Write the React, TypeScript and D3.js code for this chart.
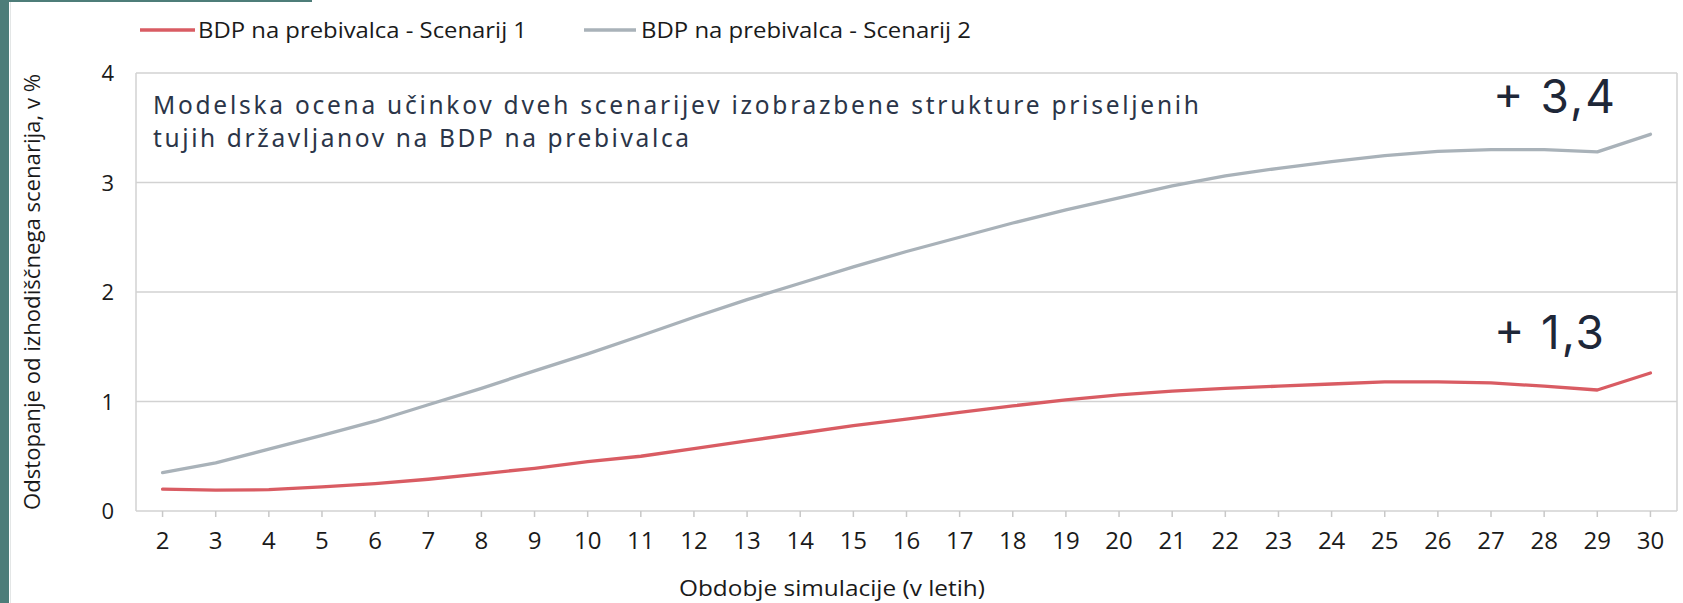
import React from "react";
import * as d3 from "d3";

const years = [2,3,4,5,6,7,8,9,10,11,12,13,14,15,16,17,18,19,20,21,22,23,24,25,26,27,28,29,30];
const scenario1 = [0.20,0.19,0.195,0.22,0.25,0.29,0.34,0.39,0.45,0.50,0.57,0.64,0.71,0.78,0.84,0.90,0.96,1.015,1.06,1.095,1.12,1.14,1.16,1.18,1.18,1.17,1.14,1.105,1.26];
const scenario2 = [0.35,0.44,0.565,0.69,0.82,0.97,1.12,1.28,1.435,1.60,1.77,1.93,2.08,2.23,2.37,2.50,2.63,2.75,2.86,2.97,3.06,3.13,3.19,3.245,3.285,3.30,3.30,3.28,3.44];
const yTicks = [0,1,2,3,4];
const seriesNames = ["BDP na prebivalca - Scenarij 1", "BDP na prebivalca - Scenarij 2"];
const seriesColors = ["#d95c63", "#a9b2b9"];
const annotationLines = [
  "Modelska ocena učinkov dveh scenarijev izobrazbene strukture priseljenih",
  "tujih državljanov na BDP na prebivalca",
];
const endLabels = ["+ 1,3", "+ 3,4"];

const W = 1683, H = 603;
const M = { left: 136, right: 1677, top: 73, bottom: 511 };
const FONT = "'Open Sans', 'Noto Sans', sans-serif";

export default function App() {
  const x = d3.scaleBand<number>().domain(years).range([M.left, M.right]).padding(0);
  const cx = (v: number) => (x(v) as number) + x.bandwidth() / 2;
  const y = d3.scaleLinear().domain([0, 4]).range([M.bottom, M.top]);
  const line = d3.line<number>().x((_, i) => cx(years[i])).y((d) => y(d)).curve(d3.curveLinear);
  const series = [scenario1, scenario2];

  return (
    <svg width={W} height={H} style={{ position: "absolute", left: 0, top: 0, background: "#fff" }}>
      <rect x={0} y={0} width={9} height={H} fill="#4d7d79" />
      <rect x={10} y={0} width={1} height={H} fill="#e3e6e6" />
      <rect x={0} y={0} width={312} height={2} fill="#4d7d79" />

      {/* gridlines */}
      {yTicks.map((t) => (
        <line key={t} x1={M.left} x2={M.right} y1={y(t)} y2={y(t)} stroke="#d2d2d2" strokeWidth={1.5} />
      ))}
      <line x1={M.left} x2={M.left} y1={M.top} y2={M.bottom} stroke="#d2d2d2" strokeWidth={1.5} />
      <line x1={M.right} x2={M.right} y1={M.top} y2={M.bottom} stroke="#d2d2d2" strokeWidth={1.5} />

      {/* x ticks */}
      {years.map((v) => (
        <g key={v}>
          <line x1={cx(v)} x2={cx(v)} y1={M.bottom} y2={M.bottom + 6} stroke="#c8c8c8" strokeWidth={1.5} />
          <text x={cx(v)} y={549} textAnchor="middle" fontFamily={FONT} fontSize={24} fill="#1a1a1a">{v}</text>
        </g>
      ))}
      {/* y ticks */}
      {yTicks.map((t) => (
        <text key={t} x={114} y={y(t) + 8} textAnchor="end" fontFamily={FONT} fontSize={22} fill="#1a1a1a">{t}</text>
      ))}

      {/* axis titles */}
      <text x={832} y={596} textAnchor="middle" fontFamily={FONT} fontSize={22} fill="#1a1a1a" textLength={306} lengthAdjust="spacingAndGlyphs">Obdobje simulacije (v letih)</text>
      <text transform="translate(40,292) rotate(-90)" textAnchor="middle" fontFamily={FONT} fontSize={21} fill="#1a1a1a" textLength={436} lengthAdjust="spacingAndGlyphs">
        Odstopanje od izhodiščnega scenarija, v %
      </text>

      {/* lines */}
      {series.map((s, i) => (
        <path key={i} d={line(s) || ""} fill="none" stroke={seriesColors[i]} strokeWidth={3.3} strokeLinejoin="round" strokeLinecap="round" />
      ))}

      {/* legend */}
      <line x1={140} x2={195} y1={30} y2={30} stroke={seriesColors[0]} strokeWidth={3.3} />
      <text x={198} y={37.5} fontFamily={FONT} fontSize={22} fill="#1a1a1a" textLength={329} lengthAdjust="spacingAndGlyphs">{seriesNames[0]}</text>
      <line x1={584} x2={636} y1={30} y2={30} stroke={seriesColors[1]} strokeWidth={3.3} />
      <text x={641} y={37.5} fontFamily={FONT} fontSize={22} fill="#1a1a1a" textLength={330} lengthAdjust="spacingAndGlyphs">{seriesNames[1]}</text>

      {/* annotation */}
      <text x={153} y={114} fontFamily="'Noto Sans', sans-serif" fontSize={24.5} fill="#2b3548" textLength={1046} lengthAdjust="spacing">{annotationLines[0]}</text>
      <text x={153} y={147} fontFamily="'Noto Sans', sans-serif" fontSize={24.5} fill="#2b3548" textLength={536} lengthAdjust="spacing">{annotationLines[1]}</text>

      <text x={1493} y={113} fontFamily="Inter, 'Noto Sans', sans-serif" fontSize={46} fill="#1e2738" textLength={122} lengthAdjust="spacing">{endLabels[1]}</text>
      <text x={1494} y={349} fontFamily="Inter, 'Noto Sans', sans-serif" fontSize={46} fill="#1e2738" textLength={110} lengthAdjust="spacing">{endLabels[0]}</text>
    </svg>
  );
}
